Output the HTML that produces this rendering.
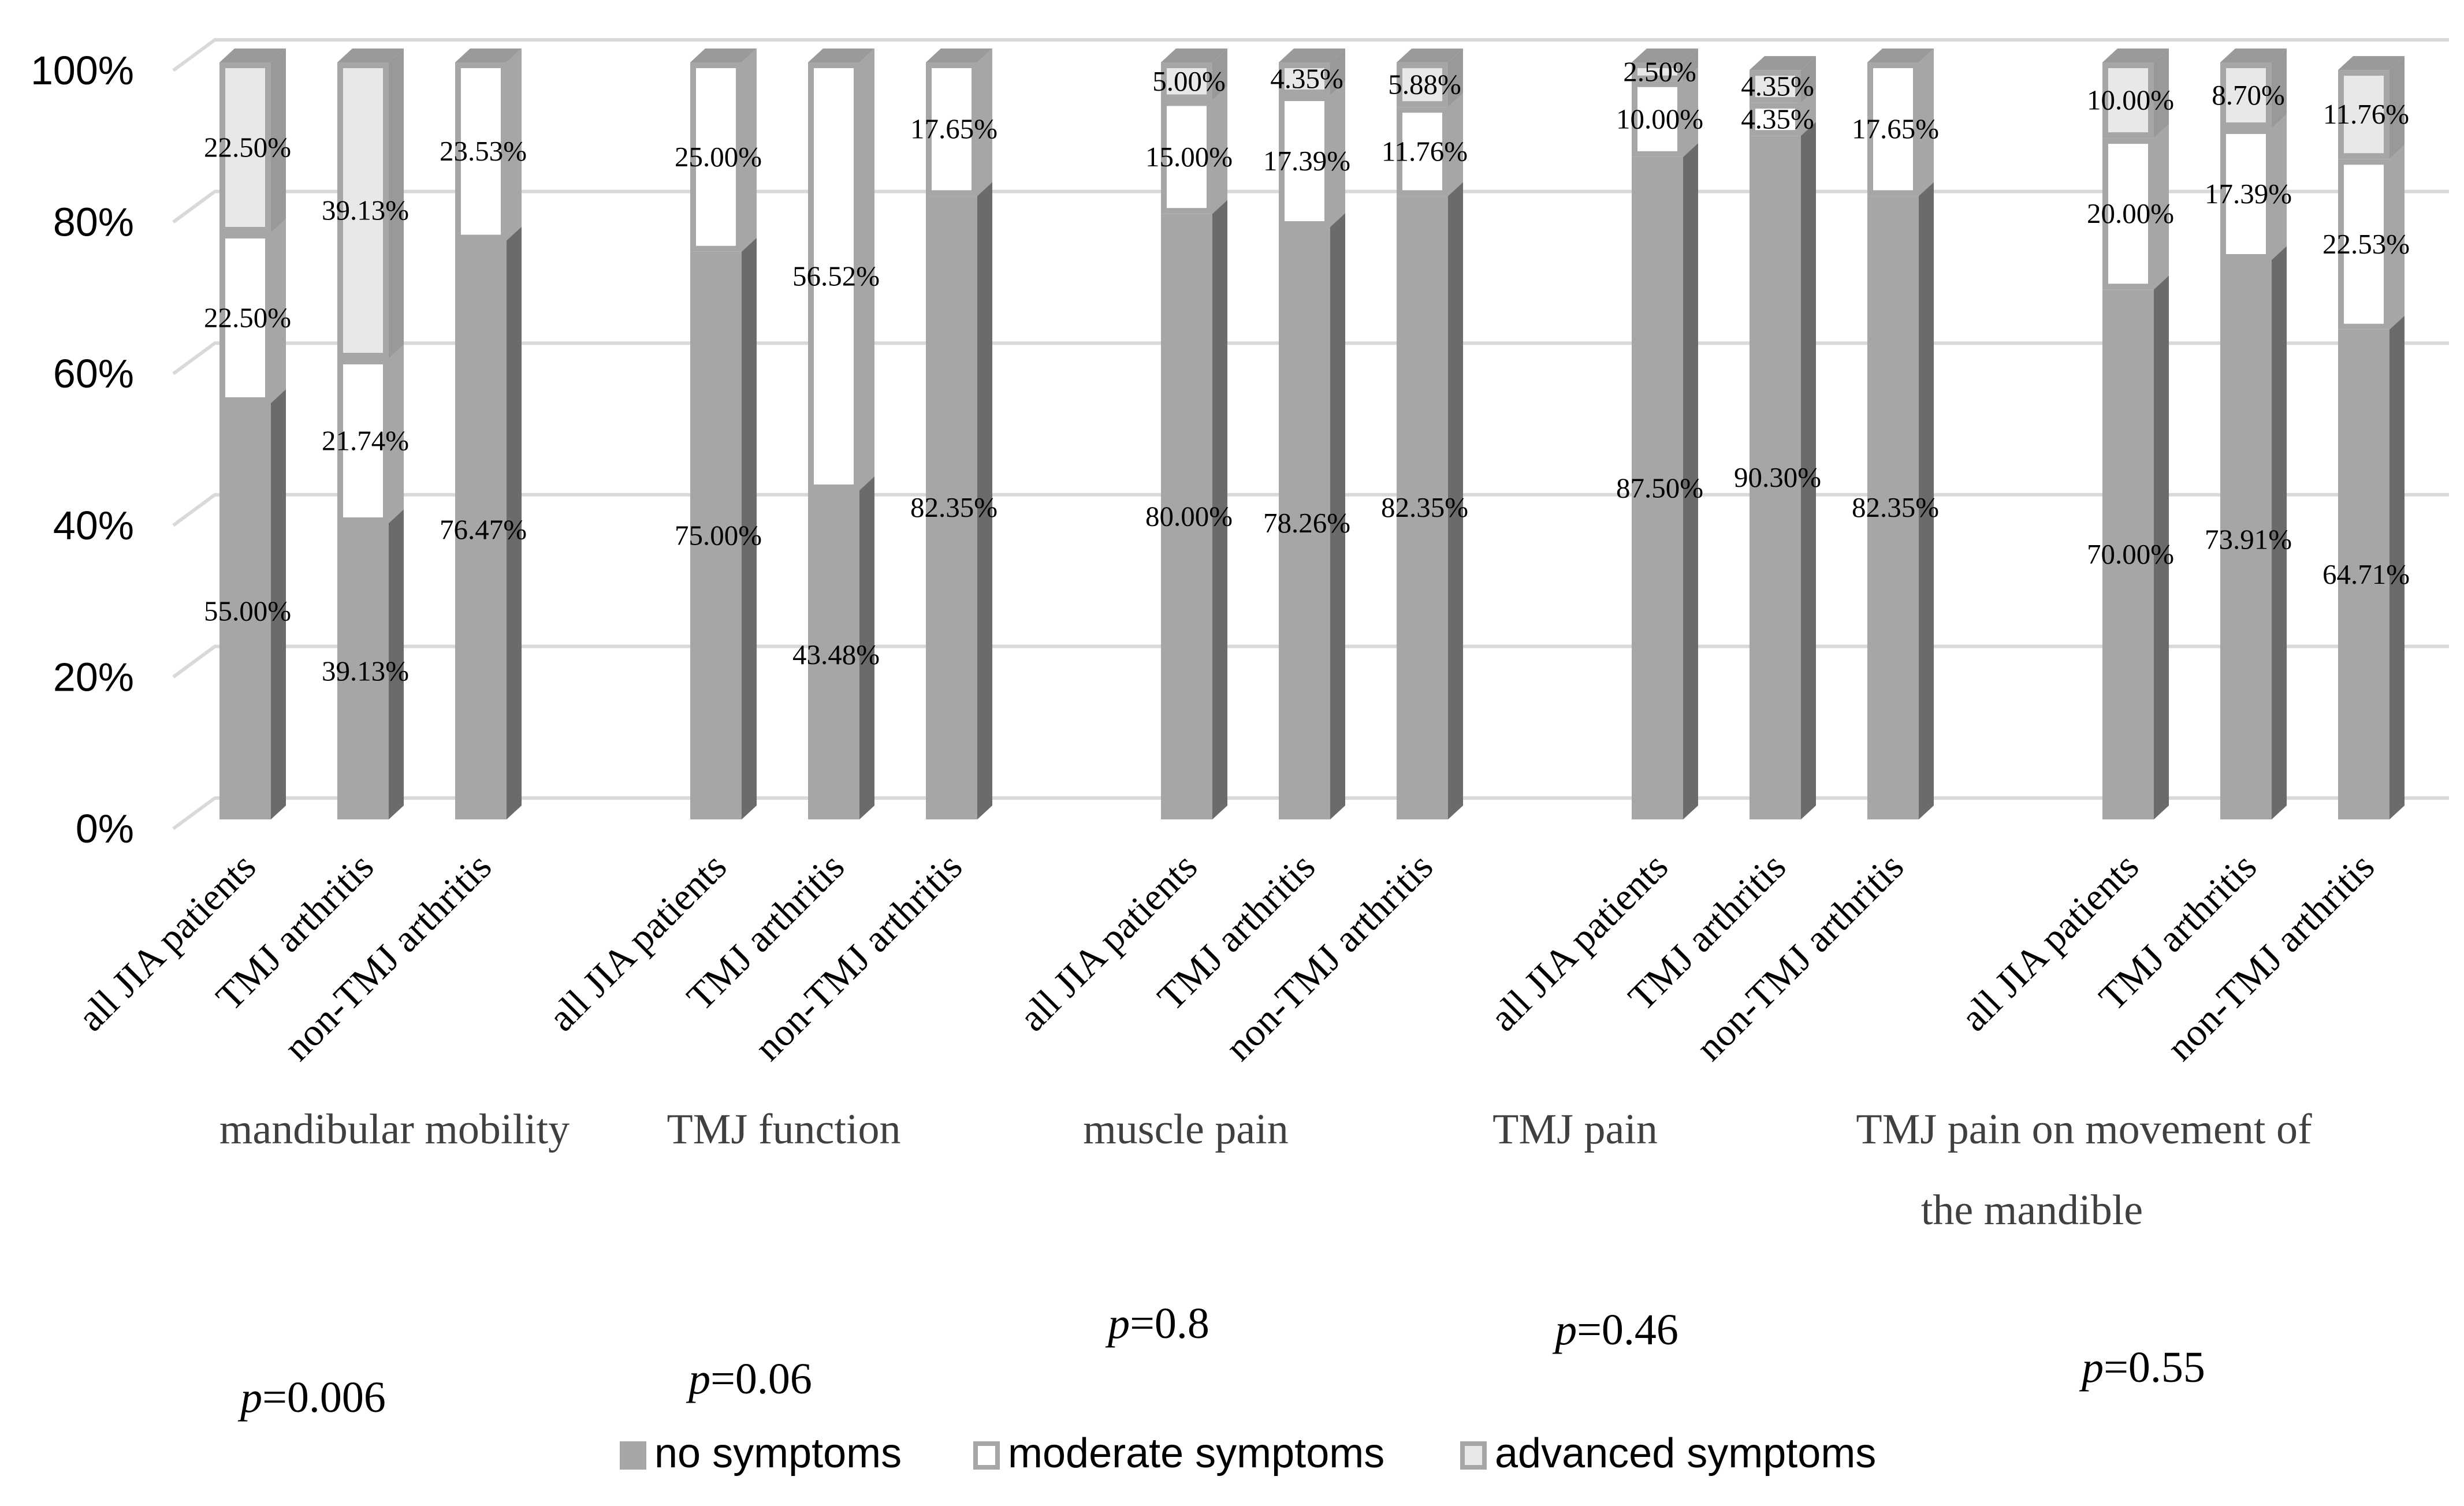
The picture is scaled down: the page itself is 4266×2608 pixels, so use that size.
<!DOCTYPE html>
<html><head><meta charset="utf-8"><style>
html,body{margin:0;padding:0;background:#fff;}
svg{display:block;}
</style></head><body>
<svg id="chart" width="4266" height="2608" viewBox="0 0 4266 2608" xmlns="http://www.w3.org/2000/svg">
<g id="grid"></g>
<g id="yaxis"></g>
<g id="bars"></g>
<g id="xlabels"></g>
<g id="groups"></g>
<g id="legend"></g>
</svg>
<script>
const groupNames = [["mandibular mobility"],["TMJ function"],["muscle pain"],["TMJ pain"],["TMJ pain on movement of","the mandible"]];
const categories = ["all JIA patients","TMJ arthritis","non-TMJ arthritis"];
const noSymptoms = [[55,39.13,76.47],[75,43.48,82.35],[80,78.26,82.35],[87.5,90.3,82.35],[70,73.91,64.71]];
const moderate = [[22.5,21.74,23.53],[25,56.52,17.65],[15,17.39,11.76],[10,4.35,17.65],[20,17.39,22.53]];
const advanced = [[22.5,39.13,0],[0,0,0],[5,4.35,5.88],[2.5,4.35,0],[10,8.70,11.76]];
const pValues = ["0.006","0.06","0.8","0.46","0.55"];
const yTicks = [0,20,40,60,80,100];
const seriesNames = ["no symptoms","moderate symptoms","advanced symptoms"];

const NS="http://www.w3.org/2000/svg";
function mk(tag,attrs,parent,text){const e=document.createElementNS(NS,tag);for(const k in attrs)e.setAttribute(k,attrs[k]);if(text!==undefined)e.textContent=text;parent.appendChild(e);return e;}
const yGrid=v=>1435-13.13*v;
const yBar=v=>1419-13.11*v;
const barX=(g,i)=>380+g*815+i*204;
const BW=89, DX=26, DY=-24;

const grid=document.getElementById('grid'), yaxis=document.getElementById('yaxis');
yTicks.forEach(t=>{
  const y=yGrid(t);
  const l=mk('polyline',{points:`300,${y} 372,${y-53} 4240,${y-53}`,fill:'none',stroke:'#d9d9d9','stroke-width':6},grid);
  
  
  const tx=mk('text',{x:232,y:y+24,'text-anchor':'end','font-family':'Liberation Sans, sans-serif','font-size':70,fill:'#000'},yaxis,t+'%');
  
  
});

const bars=document.getElementById('bars'), xl=document.getElementById('xlabels'), gt=document.getElementById('groups');
const styles=[{front:'#a6a6a6',side:'#6b6b6b',stroke:'none'},{front:'#ffffff',side:'#a6a6a6',stroke:'#a6a6a6'},{front:'#e8e8e8',side:'#999999',stroke:'#a6a6a6'}];
const labels=[];
for(let g=0;g<5;g++){
  for(let i=0;i<3;i++){
    const x=barX(g,i);
    const vals=[noSymptoms[g][i],moderate[g][i],advanced[g][i]];
    const bg=mk('g',{},bars);
    
    
    let base=0;
    vals.forEach((v,s)=>{
      if(v<=0)return;
      const y0=yBar(base), y1=yBar(base+v), st=styles[s];
      const side=mk('polygon',{points:`${x+BW},${y0} ${x+BW+DX},${y0+DY} ${x+BW+DX},${y1+DY} ${x+BW},${y1}`,fill:st.side},bg);
      
      
      const r=mk('rect',{x:x,y:y1,width:BW,height:y0-y1,fill:st.front},bg);
      if(st.stroke!=='none'){r.setAttribute('stroke',st.stroke);r.setAttribute('stroke-width',10);
        r.setAttribute('x',x+5);r.setAttribute('width',BW-10);r.setAttribute('y',y1+5);r.setAttribute('height',Math.max(0,y0-y1-10));}
      
      
      labels.push([x+BW/2+4,(y0+y1)/2,v.toFixed(2)+'%']);
      base+=v;
    });
    const yt=yBar(base);
    const top=mk('polygon',{points:`${x},${yt} ${x+DX},${yt+DY} ${x+BW+DX},${yt+DY} ${x+BW},${yt}`,fill:'#9a9a9a'},bg);
    
    
    const cx=x+BW/2+22;
    const lt=mk('text',{x:cx,y:1505,'text-anchor':'end','font-family':'Liberation Serif, serif','font-size':67,fill:'#000',transform:`rotate(-45 ${cx} 1505)`},xl,categories[i]);
    
    
  }
}
labels.forEach(l=>{
  const t=mk('text',{x:l[0],y:l[1]+16,'text-anchor':'middle','font-family':'Liberation Serif, serif','font-size':49,fill:'#000'},bars,l[2]);
  
  
});
const titleX=[683,1357,2053,2727,3608], titleY=[1980,1980,1980,1980,1980];
const pX=[542,1299,2006,2799,3711], pY=[2445,2413,2317,2328,2393];
groupNames.forEach((n,g)=>{
  n.forEach((line,k)=>{
    const t=mk('text',{x:titleX[g]-(k?90:0),y:titleY[g]+k*140,'text-anchor':'middle','font-family':'Liberation Serif, serif','font-size':74,fill:'#404040'},gt,line);
    
    
  });
  const p=mk('text',{x:pX[g],y:pY[g],'text-anchor':'middle','font-family':'Liberation Serif, serif','font-size':76,fill:'#000'},gt);
  
  
  mk('tspan',{'font-style':'italic'},p,'p');
  mk('tspan',{},p,'='+pValues[g]);
});
const leg=document.getElementById('legend');
const legX=[1073,1685,2528];
seriesNames.forEach((n,s)=>{
  const e=mk('g',{},leg);
  
  
  const st=styles[s];
  mk('rect',{x:legX[s]+4,y:2500,width:38,height:41,fill:st.front,stroke:'#a6a6a6','stroke-width':8},e);
  mk('text',{x:legX[s]+60,y:2541,'font-family':'Liberation Sans, sans-serif','font-size':72,fill:'#000'},e,n);
});
</script>
</body></html>
